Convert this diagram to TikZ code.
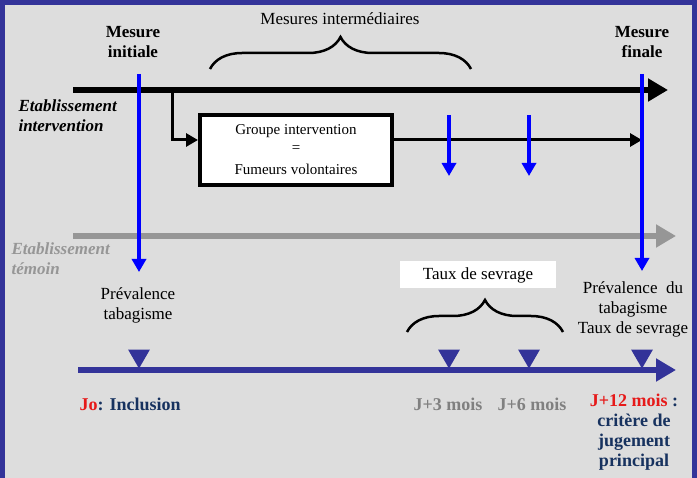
\documentclass[tikz,border=0pt]{standalone}
\usepackage{fontspec}
\setmainfont{Liberation Serif}
\usetikzlibrary{arrows.meta,decorations.pathreplacing,shapes.geometric}
\definecolor{cadre}{RGB}{51,51,153}
\definecolor{fond}{RGB}{221,221,221}
\definecolor{nuit}{RGB}{23,50,95}
\definecolor{rouge}{RGB}{230,25,25}
\definecolor{gristxt}{RGB}{128,128,128}
\definecolor{grislig}{RGB}{150,150,150}
\tikzset{
  titre/.style={font=\bfseries\fontsize{17}{20}\selectfont, align=center},
  texte/.style={font=\fontsize{17}{20}\selectfont, align=center},
  etab/.style={font=\bfseries\itshape\fontsize{17}{20}\selectfont, align=left, anchor=west},
  jour/.style={font=\bfseries\fontsize{18}{20}\selectfont, align=center},
  mesure/.style={line width=4pt, blue, -{Triangle[length=13pt,width=14pt]}},
  jalon/.style={regular polygon, regular polygon sides=3, shape border rotate=180,
    fill=cadre, inner sep=0pt, minimum size=25pt},
  accolade/.style={decorate, decoration={brace, amplitude=32pt}, line width=2.5pt}
}

\begin{document}
\begin{tikzpicture}[x=1pt, y=-1pt]
    \useasboundingbox (0,0) rectangle (697,478);
    \fill [cadre] (0,0) rectangle (697,478);
    \fill [fond] (5,5) rectangle (692,478);

    % textes du haut
    \node [titre] (mi) at (133,42) {Mesure\\initiale};
    \node [titre] (mf) at (642,42) {Mesure\\finale};
    \node [texte] (mint) at (340,19) {Mesures intermédiaires};
    \node [etab] (ei) at (15,116) {Etablissement\\intervention};
    \node [etab, grislig] (et) at (8,259) {Etablissement\\témoin};

    \node [draw, line width=4pt, fill=white, minimum width=192pt, minimum height=70pt,
      align=center, font=\fontsize{15}{18}\selectfont] (grp) at (296,150)
      {Groupe intervention\\=\\[4pt]Fumeurs volontaires};

    \node [texte] (pt) at (138,305) {Prévalence\\tabagisme};
    \node [texte, fill=white, minimum width=156pt, minimum height=27pt] (taux) at (478,275) {Taux de sevrage};
    \node [texte] (pf) at (633,309) {Prévalence~ du\\tabagisme\\Taux de sevrage};

    % axes
    \coordinate (ia) at (73,90);
    \coordinate (ib) at (668,90);
    \coordinate (br) at (172,90);
    \coordinate (gf) at (642,140);
    \coordinate (ta) at (73,236);
    \coordinate (tb) at (676,236);
    \coordinate (ca) at (78,370);
    \coordinate (cb) at (676,370);

    \draw [line width=6pt, -{Triangle[length=20pt,width=22pt]}] (ia) -- (ib);
    \draw [line width=3pt, -{Triangle[length=12pt,width=13pt]}] (br) |- ([yshift=10pt]grp.west);
    \draw [line width=3pt, -{Triangle[length=12pt,width=13pt]}] ([yshift=10pt]grp.east) -- (gf);
    \draw [line width=6pt, grislig, -{Triangle[length=20pt,width=22pt]}] (ta) -- (tb);
    \draw [line width=6pt, cadre, -{Triangle[length=20pt,width=22pt]}] (ca) -- (cb);

    % accolades
    \draw [accolade] (210,69) -- (471,69);
    \draw [accolade] (407,332) -- (563,332);

    % mesures
    \coordinate (m0a) at (139,74);
    \coordinate (m0b) at (139,272);
    \coordinate (m1a) at (642,74);
    \coordinate (m1b) at (642,271);
    \coordinate (m3a) at (449,115);
    \coordinate (m3b) at (449,176);
    \coordinate (m6a) at (529,115);
    \coordinate (m6b) at (529,176);
    \draw [mesure] (m0a) -- (m0b);
    \draw [mesure] (m1a) -- (m1b);
    \draw [mesure] (m3a) -- (m3b);
    \draw [mesure] (m6a) -- (m6b);

    % jalons
    \node [jalon] (t0) at (139,356) {};
    \node [jalon] (t3) at (449,356) {};
    \node [jalon] (t6) at (529,356) {};
    \node [jalon] (t12) at (642,356) {};

    \node [jour, nuit, anchor=west] (j0) at (76,404) {\textcolor{rouge}{Jo}: Inclusion};
    \node [jour, gristxt] (j3) at (448,404) {J+3 mois};
    \node [jour, gristxt] (j6) at (532,404) {J+6 mois};
    \node [jour, nuit] (j12) at (634,432)
      {\textcolor{rouge}{J+12 mois} :\\critère de\\jugement\\principal};
\end{tikzpicture}
\end{document}
